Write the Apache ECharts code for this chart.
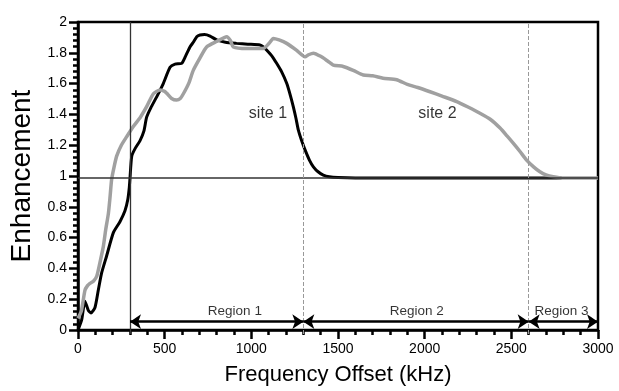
<!DOCTYPE html>
<html>
<head>
<meta charset="utf-8">
<script src="https://cdn.jsdelivr.net/npm/echarts@6/dist/echarts.min.js"></script>
<style>
html,body{margin:0;padding:0;background:#fff;}
#wrap{position:relative;width:619px;height:391px;}
#axes,#c{position:absolute;left:0;top:0;width:619px;height:391px;}
</style>
</head>
<body>
<div id="wrap"><div id="axes"></div><div id="c"></div></div>
<script>
var site1X = [0, 21, 40, 60, 75, 98, 117, 136, 165, 204, 242, 271, 287, 296, 300, 310, 330, 358, 380, 396, 420, 454, 490, 531, 560, 598, 620, 646, 665, 685, 704, 730, 762, 800, 850, 915, 980, 1050, 1070, 1088, 1120, 1146, 1175, 1204, 1225, 1242, 1258, 1271, 1290, 1310, 1335, 1358, 1385, 1415, 1450, 1500, 1600, 2790];
var site1Y = [0.025, 0.09, 0.21, 0.15, 0.135, 0.17, 0.28, 0.39, 0.5, 0.65, 0.72, 0.79, 0.86, 0.94, 1.0, 1.14, 1.19, 1.24, 1.3, 1.39, 1.45, 1.52, 1.6, 1.71, 1.73, 1.735, 1.78, 1.84, 1.87, 1.906, 1.917, 1.92, 1.91, 1.885, 1.87, 1.863, 1.858, 1.853, 1.84, 1.82, 1.78, 1.735, 1.68, 1.607, 1.53, 1.457, 1.38, 1.308, 1.24, 1.18, 1.115, 1.072, 1.04, 1.019, 1.008, 1.003, 1.0, 1.0];

var site2X = [0, 20, 40, 55, 69, 90, 108, 125, 146, 160, 175, 185, 194, 208, 223, 250, 281, 319, 360, 396, 435, 473, 500, 512, 540, 569, 590, 608, 640, 665, 704, 742, 800, 858, 880, 896, 973, 1030, 1069, 1100, 1127, 1160, 1204, 1260, 1310, 1330, 1358, 1400, 1440, 1473, 1530, 1588, 1646, 1700, 1760, 1838, 1900, 1960, 2031, 2100, 2185, 2250, 2319, 2380, 2435, 2475, 2512, 2550, 2588, 2630, 2665, 2700, 2742, 2800, 3000];
var site2Y = [0.1, 0.15, 0.28, 0.31, 0.325, 0.34, 0.37, 0.45, 0.56, 0.67, 0.77, 0.88, 0.99, 1.07, 1.14, 1.21, 1.265, 1.33, 1.39, 1.457, 1.54, 1.564, 1.555, 1.543, 1.51, 1.5, 1.51, 1.54, 1.61, 1.69, 1.77, 1.84, 1.875, 1.906, 1.88, 1.84, 1.83, 1.83, 1.83, 1.86, 1.895, 1.885, 1.863, 1.82, 1.777, 1.79, 1.8, 1.78, 1.75, 1.724, 1.715, 1.69, 1.66, 1.655, 1.64, 1.63, 1.6, 1.58, 1.553, 1.525, 1.49, 1.455, 1.415, 1.375, 1.32, 1.27, 1.222, 1.17, 1.115, 1.07, 1.04, 1.02, 1.008, 1.0, 1.0];

var regionBounds = [300, 1300, 2600, 3000];
var regionNames = ['Region 1', 'Region 2', 'Region 3'];
var regionLabelX = [905, 1954, 2790];
var arrowY = 0.079;
var regionLabelY = 0.143;
var siteLabels = ['site 1', 'site 2'];
var siteLabelX = [1096, 2074];
var siteLabelY = [1.416, 1.416];
var solidVLine = 300;
var dashedVLines = [1300, 2600];
var baseline = 1;

function zip(xs, ys){ return xs.map(function(x,i){ return [x, ys[i]]; }); }

var FONT = 'Liberation Sans, Arial, Helvetica, sans-serif';
var GRID = {left: 78, right: 21, top: 22, bottom: 57};

var arrowData = [];
for (var i = 0; i < regionNames.length; i++) {
  arrowData.push([{coord:[regionBounds[i], arrowY]}, {coord:[regionBounds[i+1], arrowY]}]);
}

/* Bottom instance: frame, axes, ticks, labels, titles */
var axesChart = echarts.init(document.getElementById('axes'), null, {renderer:'canvas'});
axesChart.setOption({
  animation: false,
  backgroundColor: '#fff',
  grid: {left: GRID.left, right: GRID.right, top: GRID.top, bottom: GRID.bottom, show: true, borderColor: '#000', borderWidth: 2.5},
  xAxis: {
    type: 'value', min: 0, max: 3000, interval: 500,
    name: 'Frequency Offset (kHz)', nameLocation: 'middle', nameGap: 34,
    nameTextStyle: {fontFamily: FONT, fontSize: 22, color: '#000'},
    axisLine: {show: true, lineStyle: {color: '#000', width: 2.5}},
    axisTick: {show: true, length: 9, lineStyle: {color: '#000', width: 2.5}},
    minorTick: {show: true, splitNumber: 5, length: 5, lineStyle: {color: '#000', width: 2.5}},
    splitLine: {show: false},
    axisLabel: {show: true, fontFamily: FONT, fontSize: 14, color: '#000', margin: 12,
      formatter: function(v){ return String(v); }}
  },
  yAxis: {
    type: 'value', min: 0, max: 2, interval: 0.2,
    name: 'Enhancement', nameLocation: 'middle', nameGap: 42,
    nameTextStyle: {fontFamily: FONT, fontSize: 28, color: '#000'},
    axisLine: {show: true, lineStyle: {color: '#000', width: 2.5}},
    axisTick: {show: true, length: 9, lineStyle: {color: '#000', width: 2.5}},
    minorTick: {show: true, splitNumber: 5, length: 5, lineStyle: {color: '#000', width: 2.5}},
    splitLine: {show: false},
    axisLabel: {show: true, fontFamily: FONT, fontSize: 14, color: '#000', margin: 11,
      formatter: function(v){ return String(Math.round(v*10)/10); }}
  },
  series: [
    {type: 'line', data: zip(site2X, site2Y), lineStyle: {opacity: 0}, itemStyle: {opacity: 0}}
  ]
});

/* Top instance: data marks, guides, arrows, labels */
var chart = echarts.init(document.getElementById('c'), null, {renderer:'canvas'});
chart.setOption({
  animation: false,
  backgroundColor: 'transparent',
  grid: {left: GRID.left, right: GRID.right, top: GRID.top, bottom: GRID.bottom},
  xAxis: {type: 'value', min: 0, max: 3000, interval: 500, show: false},
  yAxis: {type: 'value', min: 0, max: 2, interval: 0.2, show: false},
  series: [
    {
      type: 'line', name: 'site 1', data: zip(site1X, site1Y), showSymbol: false, symbol: 'none',
      lineStyle: {color: '#000', width: 3}, smooth: 0.2,
      markLine: {
        symbol: 'none', animation: false,
        label: {show: false},
        data: [
          {yAxis: baseline, lineStyle: {color: '#333', width: 1.5, type: 'solid'}},
          {xAxis: solidVLine, lineStyle: {color: '#333', width: 1.3, type: 'solid'}},
          {xAxis: dashedVLines[0], lineStyle: {color: '#999', width: 1, type: 'dashed'}},
          {xAxis: dashedVLines[1], lineStyle: {color: '#999', width: 1, type: 'dashed'}}
        ]
      }
    },
    {
      type: 'line', name: 'site 2', data: zip(site2X, site2Y), showSymbol: false, symbol: 'none',
      lineStyle: {color: '#a0a0a0', width: 3.5}, smooth: 0.2,
      markLine: {
        animation: false,
        symbol: ['arrow','arrow'], symbolSize: 11,
        label: {show: false},
        lineStyle: {color: '#000', width: 2.5, type: 'solid'},
        itemStyle: {color: '#000'},
        data: arrowData
      }
    },
    {
      type: 'scatter', name: 'regionLabels', symbolSize: 0,
      data: regionNames.map(function(n,i){ return {name: n, value: [regionLabelX[i], regionLabelY]}; }),
      label: {show: true, position: 'inside', formatter: '{b}', fontFamily: FONT, fontSize: 13.5, color: '#000'}
    },
    {
      type: 'scatter', name: 'siteLabels', symbolSize: 0,
      data: siteLabels.map(function(n,i){ return {name: n, value: [siteLabelX[i], siteLabelY[i]]}; }),
      label: {show: true, position: 'inside', formatter: '{b}', fontFamily: FONT, fontSize: 16, color: '#000'}
    }
  ]
});
</script>
</body>
</html>
